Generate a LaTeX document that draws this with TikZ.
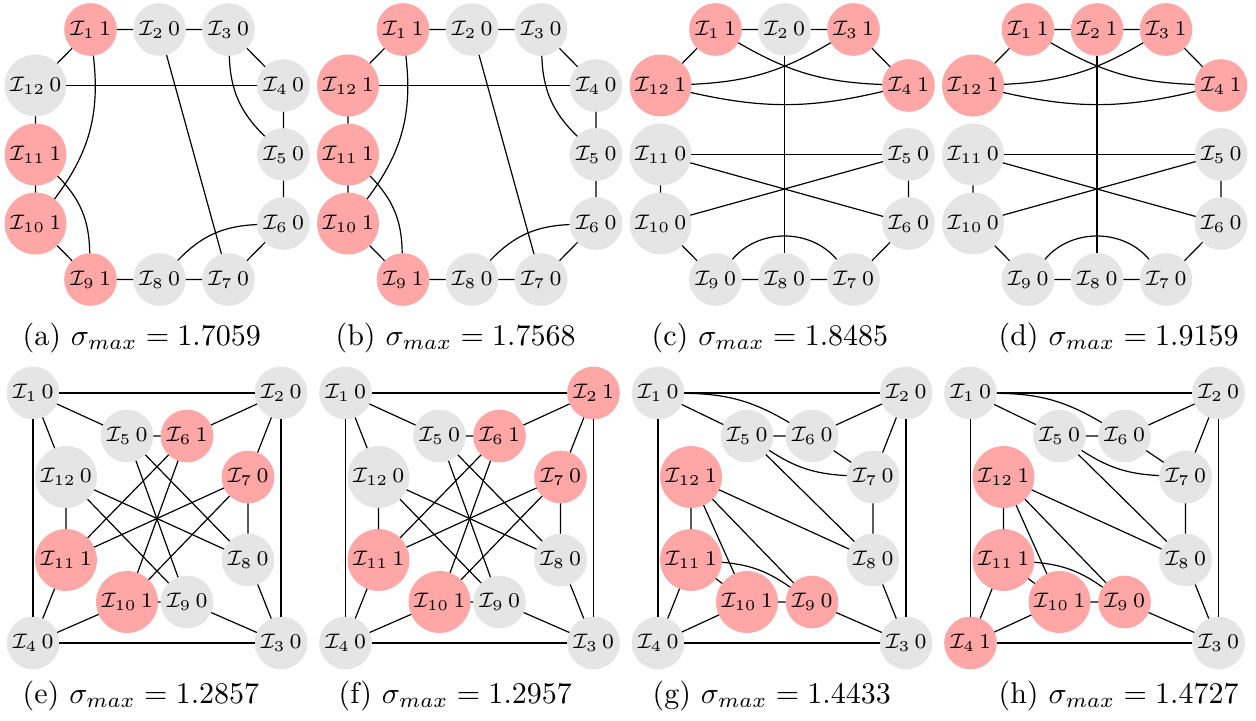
\documentclass[tikz,border=0pt]{standalone}
\usepackage{amsmath}
\usepackage{amssymb}
\usepackage{tikz}
\tikzstyle{vertex}=[circle, inner sep=1pt, outer sep=0, minimum size=17.3pt, font=\scriptsize]
\tikzstyle{offvertex}=[vertex, fill=gray!20]
\tikzstyle{onvertex}=[vertex, fill=red!35]
\tikzstyle{subcaption}=[anchor=base west, inner sep=0, font=\normalsize]
\tikzstyle{cutgraphs}=[x=0.3333pt, y=-0.3333pt]

\begin{document}
\begin{tikzpicture}[cutgraphs]
    \useasboundingbox (0, 0) rectangle (1256, 720);
    % (a)
    \begin{scope}[shift={(159.5, 154.5)}]
        \node[onvertex]  (A1)  at (-69, -125) {$\mathcal{I}_{1}\,1$};
        \node[offvertex] (A2)  at (0, -125)   {$\mathcal{I}_{2}\,0$};
        \node[offvertex] (A3)  at (69, -125)  {$\mathcal{I}_{3}\,0$};
        \node[offvertex] (A4)  at (124, -69)  {$\mathcal{I}_{4}\,0$};
        \node[offvertex] (A5)  at (124, 0)    {$\mathcal{I}_{5}\,0$};
        \node[offvertex] (A6)  at (124, 69)   {$\mathcal{I}_{6}\,0$};
        \node[offvertex] (A7)  at (69, 125)   {$\mathcal{I}_{7}\,0$};
        \node[offvertex] (A8)  at (0, 125)    {$\mathcal{I}_{8}\,0$};
        \node[onvertex]  (A9)  at (-69, 125)  {$\mathcal{I}_{9}\,1$};
        \node[onvertex]  (A10) at (-124, 69)  {$\mathcal{I}_{10}\,1$};
        \node[onvertex]  (A11) at (-124, 0)   {$\mathcal{I}_{11}\,1$};
        \node[offvertex] (A12) at (-124, -69) {$\mathcal{I}_{12}\,0$};
        \draw (A1) -- (A2) -- (A3) -- (A4) -- (A5) -- (A6) -- (A7) -- (A8) -- (A9) -- (A10) -- (A11) -- (A12) -- (A1);
        \draw (A12) -- (A4);
        \draw (A2) -- (A7);
        \draw (A3) to[bend right=22] (A5);
        \draw (A1) to[bend left=22] (A10);
        \draw (A11) to[bend left=22] (A9);
        \draw (A8) to[bend left=22] (A6);
    \end{scope}
    \node[subcaption] (capA) at (22, 345) {(a) $\sigma_{max} = 1.7059$};
    % (b)
    \begin{scope}[shift={(472, 154.5)}]
        \node[onvertex]  (B1)  at (-69, -125) {$\mathcal{I}_{1}\,1$};
        \node[offvertex] (B2)  at (0, -125)   {$\mathcal{I}_{2}\,0$};
        \node[offvertex] (B3)  at (69, -125)  {$\mathcal{I}_{3}\,0$};
        \node[offvertex] (B4)  at (124, -69)  {$\mathcal{I}_{4}\,0$};
        \node[offvertex] (B5)  at (124, 0)    {$\mathcal{I}_{5}\,0$};
        \node[offvertex] (B6)  at (124, 69)   {$\mathcal{I}_{6}\,0$};
        \node[offvertex] (B7)  at (69, 125)   {$\mathcal{I}_{7}\,0$};
        \node[offvertex] (B8)  at (0, 125)    {$\mathcal{I}_{8}\,0$};
        \node[onvertex]  (B9)  at (-69, 125)  {$\mathcal{I}_{9}\,1$};
        \node[onvertex]  (B10) at (-124, 69)  {$\mathcal{I}_{10}\,1$};
        \node[onvertex]  (B11) at (-124, 0)   {$\mathcal{I}_{11}\,1$};
        \node[onvertex]  (B12) at (-124, -69) {$\mathcal{I}_{12}\,1$};
        \draw (B1) -- (B2) -- (B3) -- (B4) -- (B5) -- (B6) -- (B7) -- (B8) -- (B9) -- (B10) -- (B11) -- (B12) -- (B1);
        \draw (B12) -- (B4);
        \draw (B2) -- (B7);
        \draw (B3) to[bend right=22] (B5);
        \draw (B1) to[bend left=22] (B10);
        \draw (B11) to[bend left=22] (B9);
        \draw (B8) to[bend left=22] (B6);
    \end{scope}
    \node[subcaption] (capB) at (335, 345) {(b) $\sigma_{max} = 1.7568$};
    % (c)
    \begin{scope}[shift={(784.5, 154.5)}]
        \node[onvertex]  (C1)  at (-69, -125) {$\mathcal{I}_{1}\,1$};
        \node[offvertex] (C2)  at (0, -125)   {$\mathcal{I}_{2}\,0$};
        \node[onvertex]  (C3)  at (69, -125)  {$\mathcal{I}_{3}\,1$};
        \node[onvertex]  (C4)  at (124, -69)  {$\mathcal{I}_{4}\,1$};
        \node[offvertex] (C5)  at (124, 0)    {$\mathcal{I}_{5}\,0$};
        \node[offvertex] (C6)  at (124, 69)   {$\mathcal{I}_{6}\,0$};
        \node[offvertex] (C7)  at (69, 125)   {$\mathcal{I}_{7}\,0$};
        \node[offvertex] (C8)  at (0, 125)    {$\mathcal{I}_{8}\,0$};
        \node[offvertex] (C9)  at (-69, 125)  {$\mathcal{I}_{9}\,0$};
        \node[offvertex] (C10) at (-124, 69)  {$\mathcal{I}_{10}\,0$};
        \node[offvertex] (C11) at (-124, 0)   {$\mathcal{I}_{11}\,0$};
        \node[onvertex]  (C12) at (-124, -69) {$\mathcal{I}_{12}\,1$};
        \draw (C12) -- (C1) -- (C2) -- (C3) -- (C4);
        \draw (C11) -- (C10) -- (C9) -- (C8) -- (C7) -- (C6) -- (C5);
        \draw (C2) -- (C8);
        \draw (C11) -- (C5);
        \draw (C11) -- (C6);
        \draw (C10) -- (C5);
        \draw (C12) to[bend right=14] (C3);
        \draw (C1) to[bend right=14] (C4);
        \draw (C12) to[bend right=13] (C4);
        \draw (C9) to[bend left=50] (C7);
    \end{scope}
    \node[subcaption] (capC) at (651, 345) {(c) $\sigma_{max} = 1.8485$};
    % (d)
    \begin{scope}[shift={(1097, 154.5)}]
        \node[onvertex]  (D1)  at (-69, -125) {$\mathcal{I}_{1}\,1$};
        \node[onvertex]  (D2)  at (0, -125)   {$\mathcal{I}_{2}\,1$};
        \node[onvertex]  (D3)  at (69, -125)  {$\mathcal{I}_{3}\,1$};
        \node[onvertex]  (D4)  at (124, -69)  {$\mathcal{I}_{4}\,1$};
        \node[offvertex] (D5)  at (124, 0)    {$\mathcal{I}_{5}\,0$};
        \node[offvertex] (D6)  at (124, 69)   {$\mathcal{I}_{6}\,0$};
        \node[offvertex] (D7)  at (69, 125)   {$\mathcal{I}_{7}\,0$};
        \node[offvertex] (D8)  at (0, 125)    {$\mathcal{I}_{8}\,0$};
        \node[offvertex] (D9)  at (-69, 125)  {$\mathcal{I}_{9}\,0$};
        \node[offvertex] (D10) at (-124, 69)  {$\mathcal{I}_{10}\,0$};
        \node[offvertex] (D11) at (-124, 0)   {$\mathcal{I}_{11}\,0$};
        \node[onvertex]  (D12) at (-124, -69) {$\mathcal{I}_{12}\,1$};
        \draw (D12) -- (D1) -- (D2) -- (D3) -- (D4);
        \draw (D11) -- (D10) -- (D9) -- (D8) -- (D7) -- (D6) -- (D5);
        \draw (D2) -- (D8);
        \draw (D11) -- (D5);
        \draw (D11) -- (D6);
        \draw (D10) -- (D5);
        \draw (D12) to[bend right=14] (D3);
        \draw (D1) to[bend right=14] (D4);
        \draw (D12) to[bend right=13] (D4);
        \draw (D9) to[bend left=50] (D7);
    \end{scope}
    \node[subcaption] (capD) at (998, 345) {(d) $\sigma_{max} = 1.9159$};
    % (e)
    \begin{scope}[shift={(157, 518)}]
        \node[offvertex] (E1)  at (-124, -125) {$\mathcal{I}_{1}\,0$};
        \node[offvertex] (E2)  at (124, -125)  {$\mathcal{I}_{2}\,0$};
        \node[offvertex] (E3)  at (124, 125)   {$\mathcal{I}_{3}\,0$};
        \node[offvertex] (E4)  at (-124, 125)  {$\mathcal{I}_{4}\,0$};
        \node[offvertex] (E5)  at (-30, -82)   {$\mathcal{I}_{5}\,0$};
        \node[onvertex]  (E6)  at (30, -82)    {$\mathcal{I}_{6}\,1$};
        \node[onvertex]  (E7)  at (91, -41)    {$\mathcal{I}_{7}\,0$};
        \node[offvertex] (E8)  at (91, 42)     {$\mathcal{I}_{8}\,0$};
        \node[offvertex] (E9)  at (30, 84)     {$\mathcal{I}_{9}\,0$};
        \node[onvertex]  (E10) at (-30, 84)    {$\mathcal{I}_{10}\,1$};
        \node[onvertex]  (E11) at (-91, 42)    {$\mathcal{I}_{11}\,1$};
        \node[offvertex] (E12) at (-91, -41)   {$\mathcal{I}_{12}\,0$};
        \draw (E1) -- (E2) -- (E3) -- (E4) -- (E1);
        \draw (E1) -- (E5) -- (E6) -- (E2);
        \draw (E2) -- (E7) -- (E8) -- (E3);
        \draw (E3) -- (E9) -- (E10) -- (E4);
        \draw (E4) -- (E11) -- (E12) -- (E1);
        \draw (E12) -- (E8);
        \draw (E12) -- (E9);
        \draw (E5) -- (E9);
        \draw (E5) -- (E8);
        \draw (E6) -- (E11);
        \draw (E6) -- (E10);
        \draw (E7) -- (E11);
        \draw (E7) -- (E10);
    \end{scope}
    \node[subcaption] (capE) at (22, 703) {(e) $\sigma_{max} = 1.2857$};
    % (f)
    \begin{scope}[shift={(469.5, 518)}]
        \node[offvertex] (F1)  at (-124, -125) {$\mathcal{I}_{1}\,0$};
        \node[onvertex]  (F2)  at (124, -125)  {$\mathcal{I}_{2}\,1$};
        \node[offvertex] (F3)  at (124, 125)   {$\mathcal{I}_{3}\,0$};
        \node[offvertex] (F4)  at (-124, 125)  {$\mathcal{I}_{4}\,0$};
        \node[offvertex] (F5)  at (-30, -82)   {$\mathcal{I}_{5}\,0$};
        \node[onvertex]  (F6)  at (30, -82)    {$\mathcal{I}_{6}\,1$};
        \node[onvertex]  (F7)  at (91, -41)    {$\mathcal{I}_{7}\,0$};
        \node[offvertex] (F8)  at (91, 42)     {$\mathcal{I}_{8}\,0$};
        \node[offvertex] (F9)  at (30, 84)     {$\mathcal{I}_{9}\,0$};
        \node[onvertex]  (F10) at (-30, 84)    {$\mathcal{I}_{10}\,1$};
        \node[onvertex]  (F11) at (-91, 42)    {$\mathcal{I}_{11}\,1$};
        \node[offvertex] (F12) at (-91, -41)   {$\mathcal{I}_{12}\,0$};
        \draw (F1) -- (F2) -- (F3) -- (F4) -- (F1);
        \draw (F1) -- (F5) -- (F6) -- (F2);
        \draw (F2) -- (F7) -- (F8) -- (F3);
        \draw (F3) -- (F9) -- (F10) -- (F4);
        \draw (F4) -- (F11) -- (F12) -- (F1);
        \draw (F12) -- (F8);
        \draw (F12) -- (F9);
        \draw (F5) -- (F9);
        \draw (F5) -- (F8);
        \draw (F6) -- (F11);
        \draw (F6) -- (F10);
        \draw (F7) -- (F11);
        \draw (F7) -- (F10);
    \end{scope}
    \node[subcaption] (capF) at (338, 703) {(f) $\sigma_{max} = 1.2957$};
    % (g)
    \begin{scope}[shift={(782, 518)}]
        \node[offvertex] (G1)  at (-124, -125) {$\mathcal{I}_{1}\,0$};
        \node[offvertex] (G2)  at (124, -125)  {$\mathcal{I}_{2}\,0$};
        \node[offvertex] (G3)  at (124, 125)   {$\mathcal{I}_{3}\,0$};
        \node[offvertex] (G4)  at (-124, 125)  {$\mathcal{I}_{4}\,0$};
        \node[offvertex] (G5)  at (-35, -82)   {$\mathcal{I}_{5}\,0$};
        \node[offvertex] (G6)  at (30, -82)    {$\mathcal{I}_{6}\,0$};
        \node[offvertex] (G7)  at (91, -41)    {$\mathcal{I}_{7}\,0$};
        \node[offvertex] (G8)  at (91, 42)     {$\mathcal{I}_{8}\,0$};
        \node[onvertex]  (G9)  at (30, 84)     {$\mathcal{I}_{9}\,0$};
        \node[onvertex]  (G10) at (-35, 84)    {$\mathcal{I}_{10}\,1$};
        \node[onvertex]  (G11) at (-91, 42)    {$\mathcal{I}_{11}\,1$};
        \node[onvertex]  (G12) at (-91, -41)   {$\mathcal{I}_{12}\,1$};
        \draw (G1) -- (G2) -- (G3) -- (G4) -- (G1);
        \draw (G1) -- (G5) -- (G6) -- (G2);
        \draw (G2) -- (G7) -- (G8) -- (G3);
        \draw (G3) -- (G9) -- (G10) -- (G4);
        \draw (G4) -- (G11) -- (G12) -- (G8);
        \draw (G6) -- (G7);
        \draw (G5) -- (G8);
        \draw (G11) -- (G10);
        \draw (G12) -- (G10);
        \draw (G12) -- (G9);
        \draw (G1) to[bend left=15] (G6);
        \draw (G5) to[bend right=15] (G7);
        \draw (G11) to[bend left=15] (G9);
    \end{scope}
    \node[subcaption] (capG) at (652, 703) {(g) $\sigma_{max} = 1.4433$};
    % (h)
    \begin{scope}[shift={(1094.5, 518)}]
        \node[offvertex] (H1)  at (-124, -125) {$\mathcal{I}_{1}\,0$};
        \node[offvertex] (H2)  at (124, -125)  {$\mathcal{I}_{2}\,0$};
        \node[offvertex] (H3)  at (124, 125)   {$\mathcal{I}_{3}\,0$};
        \node[onvertex]  (H4)  at (-124, 125)  {$\mathcal{I}_{4}\,1$};
        \node[offvertex] (H5)  at (-35, -82)   {$\mathcal{I}_{5}\,0$};
        \node[offvertex] (H6)  at (30, -82)    {$\mathcal{I}_{6}\,0$};
        \node[offvertex] (H7)  at (91, -41)    {$\mathcal{I}_{7}\,0$};
        \node[offvertex] (H8)  at (91, 42)     {$\mathcal{I}_{8}\,0$};
        \node[onvertex]  (H9)  at (30, 84)     {$\mathcal{I}_{9}\,0$};
        \node[onvertex]  (H10) at (-35, 84)    {$\mathcal{I}_{10}\,1$};
        \node[onvertex]  (H11) at (-91, 42)    {$\mathcal{I}_{11}\,1$};
        \node[onvertex]  (H12) at (-91, -41)   {$\mathcal{I}_{12}\,1$};
        \draw (H1) -- (H2) -- (H3) -- (H4) -- (H1);
        \draw (H1) -- (H5) -- (H6) -- (H2);
        \draw (H2) -- (H7) -- (H8) -- (H3);
        \draw (H3) -- (H9) -- (H10) -- (H4);
        \draw (H4) -- (H11) -- (H12) -- (H8);
        \draw (H6) -- (H7);
        \draw (H5) -- (H8);
        \draw (H11) -- (H10);
        \draw (H12) -- (H10);
        \draw (H12) -- (H9);
        \draw (H1) to[bend left=15] (H6);
        \draw (H5) to[bend right=15] (H7);
        \draw (H11) to[bend left=15] (H9);
    \end{scope}
    \node[subcaption] (capH) at (998, 703) {(h) $\sigma_{max} = 1.4727$};
\end{tikzpicture}
\end{document}
